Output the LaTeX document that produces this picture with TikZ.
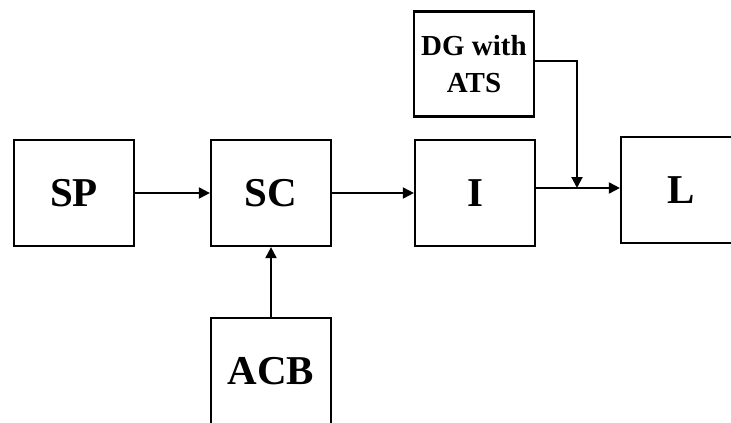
\documentclass[tikz,border=0pt]{standalone}
\usepackage{fontspec}
\setmainfont{Liberation Serif}
\usetikzlibrary{arrows.meta, positioning}
\tikzset{
  block/.style={
    draw,
    rectangle,
    line width=2.2pt,
    minimum width=120pt,
    minimum height=106pt,
    inner sep=0pt,
    align=center,
    font=\fontsize{41}{44}\selectfont\bfseries,
  },
  smallblock/.style={
    block,
    font=\fontsize{29}{37}\selectfont\bfseries
  },
  arrow/.style={
    -{Triangle[length=11pt,width=11pt]},
    line width=2pt
  }
}
\begin{document}
\begin{tikzpicture}[x=1pt, y=-1pt]
\useasboundingbox (0,0) rectangle (731,423);
\clip (0,0) rectangle (731,423);

% main chain
\node[block] (sp) at (74,193) {SP};
\node[block] (sc) at (271,193) {SC};
\node[block] (inv) at (475,193) {I};
\node[block] (load) at (681,190) {L};

% side sources
\node[smallblock, minimum height=105pt] (dg) at (474,64) {DG with\\ATS};
\node[block] (acb) at (271,371) {ACB};

\coordinate (join) at (577,188);

\draw[arrow] (sp.east) -- (sc.west);
\draw[arrow] (sc.east) -- (inv.west);
\draw[arrow] (inv.east |- join) -- (load.west |- join);
\draw[arrow] (acb.north) -- (sc.south);
\draw[arrow] (dg.east |- 0,61) -| (join);
\end{tikzpicture}
\end{document}
